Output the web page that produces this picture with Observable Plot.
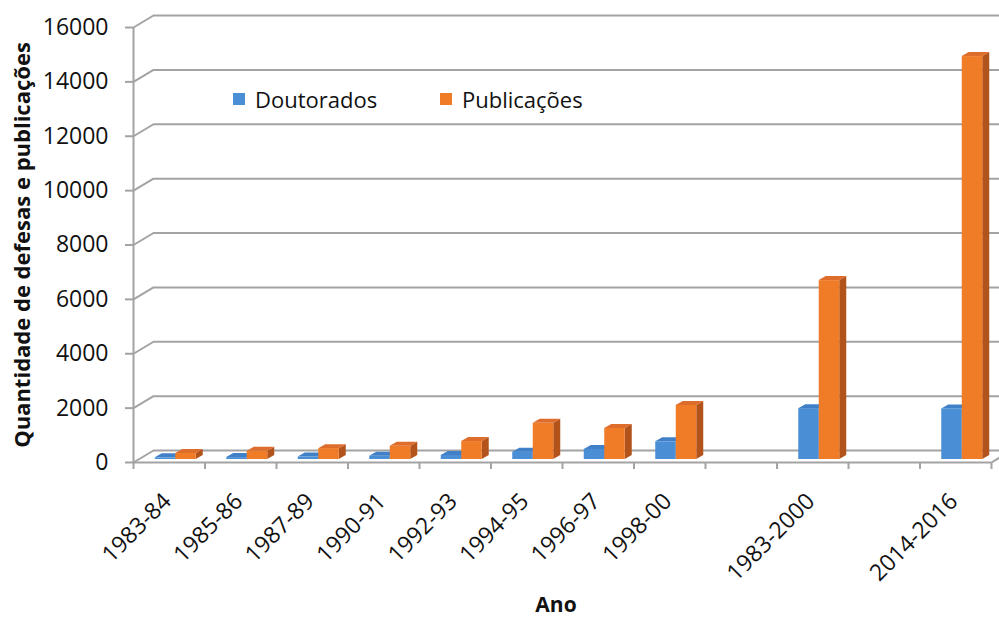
<!DOCTYPE html>
<html>
<head>
<meta charset="utf-8">
<script src="https://cdn.jsdelivr.net/npm/d3@7"></script>
<script src="https://cdn.jsdelivr.net/npm/@observablehq/plot@0.6"></script>
<style>
  html, body { margin: 0; padding: 0; background: #fff; }
  #wrap { position: relative; width: 999px; height: 617px; font-family: "Open Sans", sans-serif; color: #111; }
  #wrap svg { position: absolute; left: 0; top: 0; }
  .ytitle { position: absolute; left: 21px; top: 245px; transform: translate(-50%, -50%) rotate(-90deg); white-space: nowrap; font-weight: bold; font-size: 22px; line-height: 1; }
  .xtitle { position: absolute; left: 556px; top: 604px; transform: translate(-50%, -50%); font-weight: bold; font-size: 21px; line-height: 1; }
  .legend { position: absolute; top: 84px; font-size: 22px; display: flex; align-items: center; white-space: nowrap; }
  .sw { width: 12px; height: 12px; display: inline-block; margin-right: 10px; }
</style>
</head>
<body>
<div id="wrap"></div>
<script>
// ---- data ----
const categories = ["1983-84","1985-86","1987-89","1990-91","1992-93","1994-95","1996-97","1998-00","","1983-2000","","2014-2016"];
const doutorados = [60, 70, 90, 120, 150, 270, 370, 650, null, 1870, null, 1860];
const publicacoes = [220, 300, 400, 490, 660, 1330, 1140, 1990, null, 6580, null, 14820];
const seriesNames = ["Doutorados", "Publicações"];
const yTicks = [0, 2000, 4000, 6000, 8000, 10000, 12000, 14000, 16000];

// ---- layout / style ----
const W = 999, H = 617, ML = 133, MR = 8, MT = 27, MB = 155;
const yMax = 16000;
const nCat = categories.length;
const kx = nCat / (W - ML - MR);      // x data units per pixel
const ky = yMax / (H - MT - MB);      // y data units per pixel
const WALL_DX = 20, WALL_DY = 12;     // depth of back wall (px)
const BAR_W = 20.5, BAR_DX = 7, BAR_DY = 4; // bar width & bar depth (px)
const gridColor = "#a3a3a3";
const colors = {
  front: ["#4a8ed6", "#f07c28"],
  top:   ["#3f80c8", "#de6c2b"],
  side:  ["#2e64a3", "#b3531c"]
};

// ---- derived geometry from data ----
const seriesValues = [doutorados, publicacoes];
const bars = [];
seriesValues.forEach((vals, si) => vals.forEach((v, i) => {
  if (v == null) return;
  const xL = i + (si === 0 ? -BAR_W : 0) * kx;
  bars.push({ si, i, v, xL, xR: xL + BAR_W * kx, key: si + "-" + i });
}));
const topPts = bars.flatMap(b => [
  { si: b.si, key: b.key, y: b.v, x1: b.xL, x2: b.xR },
  { si: b.si, key: b.key, y: b.v + BAR_DY * ky, x1: b.xL + BAR_DX * kx, x2: b.xR + BAR_DX * kx }
]);
const sidePts = bars.flatMap(b => [
  { si: b.si, key: b.key, x: b.xR, y1: 0, y2: b.v },
  { si: b.si, key: b.key, x: b.xR + BAR_DX * kx, y1: BAR_DY * ky, y2: b.v + BAR_DY * ky }
]);
const xMin = -0.5, xMax = nCat - 0.5;
const boundaries = d3.range(nCat + 1).map(i => i - 0.5);
const catObjs = categories.map((c, i) => ({ c, i })).filter(d => d.c !== "");

const barOpts = { dx: 6.5, dy: -3 };
function barMarks(si) {
  return [
    Plot.areaY(sidePts.filter(d => d.si === si), { x: "x", y1: "y1", y2: "y2", z: "key", fill: colors.side[si], ...barOpts }),
    Plot.rect(bars.filter(d => d.si === si), { x1: "xL", x2: "xR", y1: 0, y2: "v", fill: colors.front[si], ...barOpts }),
    Plot.areaX(topPts.filter(d => d.si === si), { y: "y", x1: "x1", x2: "x2", z: "key", fill: colors.top[si], ...barOpts })
  ];
}

const plot = Plot.plot({
  width: W, height: H,
  marginLeft: ML, marginRight: MR, marginTop: MT, marginBottom: MB,
  style: { fontFamily: "Open Sans, sans-serif", fontSize: "23px", color: "#111", background: "transparent", overflow: "visible" },
  x: { type: "linear", domain: [xMin, xMax], axis: null },
  y: { type: "linear", domain: [0, yMax], axis: null },
  marks: [
    // back wall gridlines
    Plot.ruleY(yTicks, { y: d => d, x1: xMin, x2: xMax, dx: WALL_DX, dy: -WALL_DY, stroke: gridColor, strokeWidth: 2 }),
    // diagonal connectors from front axis to back wall
    Plot.link(yTicks, { x1: xMin, y1: d => d, x2: xMin + WALL_DX * kx, y2: d => d + WALL_DY * ky, stroke: gridColor, strokeWidth: 2 }),
    // floor right edge
    Plot.link([0], { x1: xMax, y1: 0, x2: xMax + WALL_DX * kx, y2: WALL_DY * ky, stroke: gridColor, strokeWidth: 2 }),
    // front y axis line and floor line
    Plot.ruleX([xMin], { y1: 0, y2: yMax, stroke: gridColor, strokeWidth: 2 }),
    Plot.ruleY([0], { x1: xMin, x2: xMax, stroke: gridColor, strokeWidth: 2 }),
    // y ticks
    Plot.ruleY(yTicks, { y: d => d, x1: xMin - 8 * kx, x2: xMin, stroke: gridColor, strokeWidth: 2 }),
    Plot.text(yTicks, { x: xMin, y: d => d, text: d => String(d), textAnchor: "end", dx: -25, fill: "#111" }),
    // x ticks
    Plot.ruleX(boundaries, { x: d => d, y1: 0, y2: -7 * ky, stroke: gridColor, strokeWidth: 2 }),
    // bars
    ...barMarks(0),
    ...barMarks(1),
    // x labels
    Plot.text(catObjs, { x: "i", y: 0, text: "c", rotate: -45, textAnchor: "end", dx: -2, dy: 35, fill: "#111" })
  ]
});

const wrap = document.getElementById("wrap");
wrap.appendChild(plot);

function addDiv(cls, html, style) {
  const d = document.createElement("div");
  d.className = cls;
  d.innerHTML = html;
  if (style) Object.assign(d.style, style);
  wrap.appendChild(d);
}
addDiv("ytitle", "Quantidade de defesas e publicações");
addDiv("xtitle", "Ano");
addDiv("legend", `<span class="sw" style="background:${colors.front[0]}"></span>${seriesNames[0]}`, { left: "233px" });
addDiv("legend", `<span class="sw" style="background:${colors.front[1]}"></span>${seriesNames[1]}`, { left: "440px" });
</script>
</body>
</html>
